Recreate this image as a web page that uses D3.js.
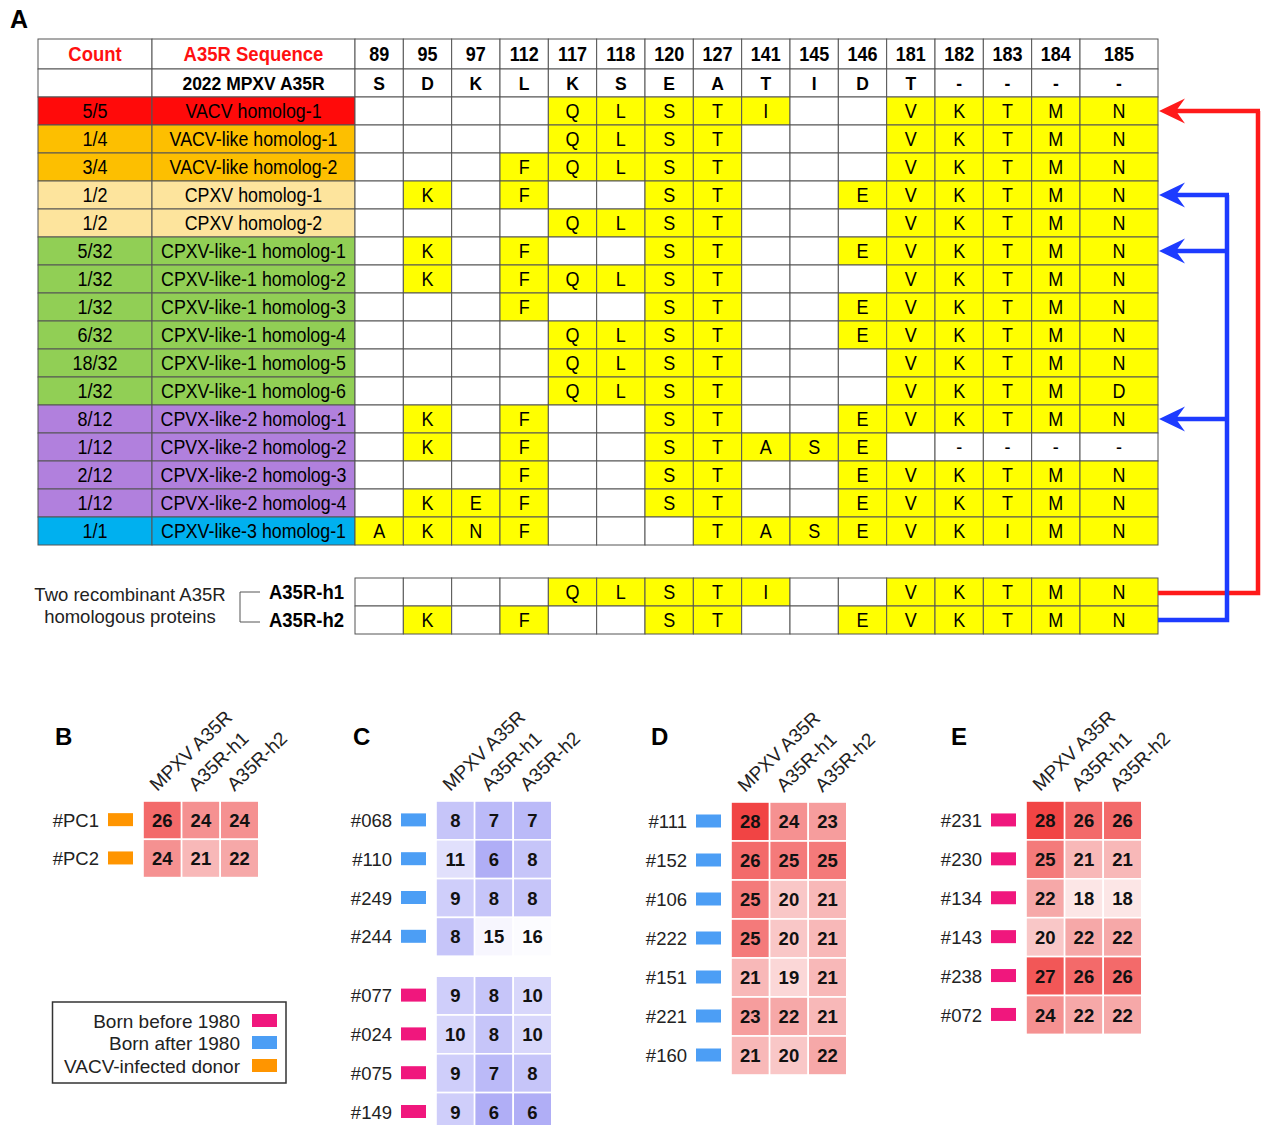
<!DOCTYPE html>
<html>
<head>
<meta charset="utf-8">
<script src="https://cdn.jsdelivr.net/npm/d3@7"></script>
<style>
  body { margin: 0; background: #fff; }
  svg { display: block; font-family: "Liberation Sans", Arial, Helvetica, sans-serif; }
</style>
</head>
<body>
<svg id="fig" width="1263" height="1125"></svg>
<script>
// ---------- Panel A: A35R residue alignment ----------
const positions = ["89","95","97","112","117","118","120","127","141","145","146","181","182","183","184","185"];
const mpxvResidues = ["S","D","K","L","K","S","E","A","T","I","D","T","-","-","-","-"];
const counts = ["5/5","1/4","3/4","1/2","1/2","5/32","1/32","1/32","6/32","18/32","1/32","8/12","1/12","2/12","1/12","1/1"];
const homologNames = [
  "VACV homolog-1","VACV-like homolog-1","VACV-like homolog-2","CPXV homolog-1","CPXV homolog-2",
  "CPXV-like-1 homolog-1","CPXV-like-1 homolog-2","CPXV-like-1 homolog-3","CPXV-like-1 homolog-4",
  "CPXV-like-1 homolog-5","CPXV-like-1 homolog-6","CPVX-like-2 homolog-1","CPVX-like-2 homolog-2",
  "CPVX-like-2 homolog-3","CPVX-like-2 homolog-4","CPXV-like-3 homolog-1"
];
const homologGroups = ["VACV","VACV-like","VACV-like","CPXV","CPXV","CPXV-like-1","CPXV-like-1","CPXV-like-1",
  "CPXV-like-1","CPXV-like-1","CPXV-like-1","CPXV-like-2","CPXV-like-2","CPXV-like-2","CPXV-like-2","CPXV-like-3"];
// one character per position; "." = no substitution relative to 2022 MPXV A35R
const substitutions = [
  "....QLSTI..VKTMN",
  "....QLST...VKTMN",
  "...FQLST...VKTMN",
  ".K.F..ST..EVKTMN",
  "....QLST...VKTMN",
  ".K.F..ST..EVKTMN",
  ".K.FQLST...VKTMN",
  "...F..ST..EVKTMN",
  "....QLST..EVKTMN",
  "....QLST...VKTMN",
  "....QLST...VKTMD",
  ".K.F..ST..EVKTMN",
  ".K.F..STASE.----",
  "...F..ST..EVKTMN",
  ".KEF..ST..EVKTMN",
  "AKNF...TASEVKIMN"
];
const recombinantNames = ["A35R-h1","A35R-h2"];
const recombinantSubs = [
  "....QLSTI..VKTMN",
  ".K.F..ST..EVKTMN"
];
// homolog rows each recombinant protein was built from
const h1Sources = [0];
const h2Sources = [3, 5, 11];

// ---------- Panels B–E: antibody titres ----------
const antigens = ["MPXV A35R","A35R-h1","A35R-h2"];
const donorsB = ["#PC1","#PC2"];
const titresB = [[26,24,24],[24,21,22]];
const donorsC = ["#068","#110","#249","#244","#077","#024","#075","#149"];
const cohortC = ["after","after","after","after","before","before","before","before"];
const titresC = [[8,7,7],[11,6,8],[9,8,8],[8,15,16],[9,8,10],[10,8,10],[9,7,8],[9,6,6]];
const donorsD = ["#111","#152","#106","#222","#151","#221","#160"];
const titresD = [[28,24,23],[26,25,25],[25,20,21],[25,20,21],[21,19,21],[23,22,21],[21,20,22]];
const donorsE = ["#231","#230","#134","#143","#238","#072"];
const titresE = [[28,26,26],[25,21,21],[22,18,18],[20,22,22],[27,26,26],[24,22,22]];
const legendLabels = ["Born before 1980","Born after 1980","VACV-infected donor"];
const legendKeys = ["before","after","vacv"];

// ---------- styling ----------
const groupColor = {
  "VACV": "#ff0a0a", "VACV-like": "#fdbf00", "CPXV": "#fde49d",
  "CPXV-like-1": "#91cf55", "CPXV-like-2": "#b180dd", "CPXV-like-3": "#00b0ef"
};
const cohortColor = { before: "#f0177d", after: "#4c9ef5", vacv: "#ff9500" };
const yellow = "#ffff00";
const gridColor = "#555";
const stretch = 1.1;   // slightly tall lettering used throughout the table

const svg = d3.select("#fig");
svg.append("rect").attr("width", 1263).attr("height", 1125).attr("fill", "#fff");

// column geometry of the alignment table
const tableX0 = 38, countW = 114, seqW = 203;
const posX0 = tableX0 + countW + seqW;          // 355
const posScale = d3.scaleBand().domain(positions.slice(0, 15)).range([posX0, 1080]);
const lastColW = 78;
const colX = p => p === "185" ? 1080 : posScale(p);
const colW = p => p === "185" ? lastColW : posScale.bandwidth();
const tableRight = 1080 + lastColW;

const headY = 39, headH = 30, refH = 28;
const rowScale = d3.scaleBand().domain(d3.range(counts.length)).range([97, 97 + 28 * counts.length]);
const rowH = rowScale.bandwidth();

const A = svg.append("g").attr("class", "panel-a");
A.append("text").attr("x", 10).attr("y", 28).attr("font-size", 25).attr("font-weight", "bold").text("A");

function tallText(g, x, y, txt, o = {}) {
  const s = o.stretch != null ? o.stretch : stretch;
  return g.append("text")
    .attr("transform", `translate(${x},${y}) scale(1,${s})`)
    .attr("dy", "0.36em")
    .attr("text-anchor", o.anchor || "middle").attr("font-size", o.size || 17.5)
    .attr("font-weight", o.bold ? "bold" : "normal")
    .attr("fill", o.color || "#000").text(txt);
}

function cell(g, x, y, w, h, fill, txt, opts = {}) {
  g.append("rect").attr("x", x).attr("y", y).attr("width", w).attr("height", h)
    .attr("fill", fill).attr("stroke", gridColor).attr("stroke-width", 1);
  if (txt) tallText(g, x + w / 2, y + h / 2, txt, opts);
}

// header rows
cell(A, tableX0, headY, countW, headH, "#fff", "Count", { bold: true, color: "#ff1111", size: 18.5 });
cell(A, tableX0 + countW, headY, seqW, headH, "#fff", "A35R Sequence", { bold: true, color: "#ff1111", size: 18.5 });
positions.forEach(p => cell(A, colX(p), headY, colW(p), headH, "#fff", p, { bold: true, size: 18 }));
const refY = headY + headH;
cell(A, tableX0, refY, countW, refH, "#fff", "");
cell(A, tableX0 + countW, refY, seqW, refH, "#fff", "2022 MPXV A35R", { bold: true, size: 17.5 });
positions.forEach((p, j) => cell(A, colX(p), refY, colW(p), refH, "#fff", mpxvResidues[j], { bold: true, size: 17.5 }));

// homolog rows
counts.forEach((c, i) => {
  const y = rowScale(i), fill = groupColor[homologGroups[i]];
  cell(A, tableX0, y, countW, rowH, fill, c, { size: 18 });
  cell(A, tableX0 + countW, y, seqW, rowH, fill, homologNames[i], { size: 17.8 });
  positions.forEach((p, j) => {
    const r = substitutions[i][j];
    const isSub = r !== "." && r !== "-";
    cell(A, colX(p), y, colW(p), rowH, isSub ? yellow : "#fff", r === "." ? "" : r, { size: 18 });
  });
});

// recombinant proteins
const recY = d3.scaleBand().domain(d3.range(recombinantNames.length)).range([578, 634]);
recombinantNames.forEach((name, i) => {
  const y = recY(i), h = recY.bandwidth();
  tallText(A, 344, y + h / 2, name, { anchor: "end", size: 18.5, bold: true });
  positions.forEach((p, j) => {
    const r = recombinantSubs[i][j];
    const isSub = r !== "." && r !== "-";
    cell(A, colX(p), y, colW(p), h, isSub ? yellow : "#fff", r === "." ? "" : r, { size: 18 });
  });
});
const recCenters = recombinantNames.map((_, i) => recY(i) + recY.bandwidth() / 2);
A.append("path")
  .attr("d", `M260,${recCenters[0]}H240V${recCenters[1] + 2}H260`)
  .attr("fill", "none").attr("stroke", "#555").attr("stroke-width", 1);
tallText(A, 130, 594, "Two recombinant A35R", { size: 18.5, color: "#222", stretch: 1 });
tallText(A, 130, 616, "homologous proteins", { size: 18.5, color: "#222", stretch: 1 });

// derivation arrows
function arrowHead(g, tipX, y, color) {
  g.append("path")
    .attr("d", `M${tipX},${y}L${tipX + 26},${y - 12.5}L${tipX + 17},${y}L${tipX + 26},${y + 12.5}Z`)
    .attr("fill", color);
}
function link(g, fromIdx, targets, railX, color) {
  const ys = targets.map(t => rowScale(t) + rowH / 2);
  const yFrom = recCenters[fromIdx] + (fromIdx === 0 ? 1 : 0);
  const top = d3.min(ys);
  g.append("path")
    .attr("d", `M${tableRight},${yFrom}H${railX}V${top}`)
    .attr("fill", "none").attr("stroke", color).attr("stroke-width", 4.5).attr("stroke-linejoin", "miter");
  ys.forEach(y => {
    g.append("path").attr("d", `M${railX + 2},${y}H${tableRight + 17}`)
      .attr("fill", "none").attr("stroke", color).attr("stroke-width", 4.5);
    arrowHead(g, tableRight + 1, y, color);
  });
}
link(A, 0, h1Sources, 1258, "#ff1a1a");
link(A, 1, h2Sources, 1227, "#1d3bff");

// ---------- heatmaps ----------
const titreColor = d3.scaleLinear()
  .domain([6, 8, 11, 16, 17, 18, 21, 22, 24, 25, 26, 28])
  .range(["#b0aef6","#c6c5f9","#e1e0fc","#fcfcff","#ffffff","#fce6e6","#f8b8b8","#f6a8a8",
          "#f59191","#f47a7a","#f36a6a","#f14444"])
  .clamp(true);

function heatmap({ letter, letterX, x0, y0, donors, cohorts, titres, rowStep, gapAfter, gap }) {
  const g = svg.append("g");
  g.append("text").attr("x", letterX).attr("y", 745).attr("font-size", 24).attr("font-weight", "bold").text(letter);
  const xs = d3.scaleBand().domain(antigens).range([x0, x0 + 3 * 38.6]);
  const yOf = i => y0 + i * rowStep + (gapAfter != null && i >= gapAfter ? gap : 0);

  antigens.forEach(a => {
    const cx = xs(a) + xs.bandwidth() / 2 - 5;
    g.append("text").attr("transform", `translate(${cx},${y0 - 9}) rotate(-44)`)
      .attr("font-size", 19).attr("fill", "#222").text(a);
  });

  donors.forEach((d, i) => {
    const y = yOf(i), cy = y + rowStep / 2;
    g.append("text").attr("x", x0 - 44).attr("y", cy).attr("dy", "0.36em")
      .attr("text-anchor", "end").attr("font-size", 18.5).attr("fill", "#222").text(d);
    g.append("rect").attr("x", x0 - 35).attr("y", cy - 7).attr("width", 25).attr("height", 13)
      .attr("fill", cohortColor[cohorts[i]]);
    antigens.forEach((a, j) => {
      const v = titres[i][j];
      g.append("rect").attr("x", xs(a)).attr("y", y).attr("width", xs.bandwidth()).attr("height", rowStep)
        .attr("fill", titreColor(v)).attr("stroke", "#fff").attr("stroke-width", 1.6);
      g.append("text").attr("x", xs(a) + xs.bandwidth() / 2).attr("y", cy).attr("dy", "0.36em")
        .attr("text-anchor", "middle").attr("font-size", 18.5).attr("font-weight", "bold")
        .attr("fill", "#111").text(v);
    });
  });
}

heatmap({ letter: "B", letterX: 55, x0: 143, y0: 801, donors: donorsB,
  cohorts: donorsB.map(() => "vacv"), titres: titresB, rowStep: 38.3 });
heatmap({ letter: "C", letterX: 353, x0: 436, y0: 801, donors: donorsC,
  cohorts: cohortC, titres: titresC, rowStep: 38.8, gapAfter: 4, gap: 20 });
heatmap({ letter: "D", letterX: 651, x0: 731, y0: 802, donors: donorsD,
  cohorts: donorsD.map(() => "after"), titres: titresD, rowStep: 39 });
heatmap({ letter: "E", letterX: 951, x0: 1026, y0: 801, donors: donorsE,
  cohorts: donorsE.map(() => "before"), titres: titresE, rowStep: 38.9 });

// cohort legend
const L = svg.append("g");
L.append("rect").attr("x", 52.5).attr("y", 1002).attr("width", 233.5).attr("height", 81)
  .attr("fill", "#fff").attr("stroke", "#333").attr("stroke-width", 1.5);
legendLabels.forEach((lab, i) => {
  const cy = [1021, 1043, 1066][i];
  L.append("text").attr("x", 240).attr("y", cy).attr("dy", "0.36em").attr("text-anchor", "end")
    .attr("font-size", 19).attr("fill", "#222").text(lab);
  L.append("rect").attr("x", 252).attr("y", cy - 7).attr("width", 25).attr("height", 13)
    .attr("fill", cohortColor[legendKeys[i]]);
});
</script>
</body>
</html>
